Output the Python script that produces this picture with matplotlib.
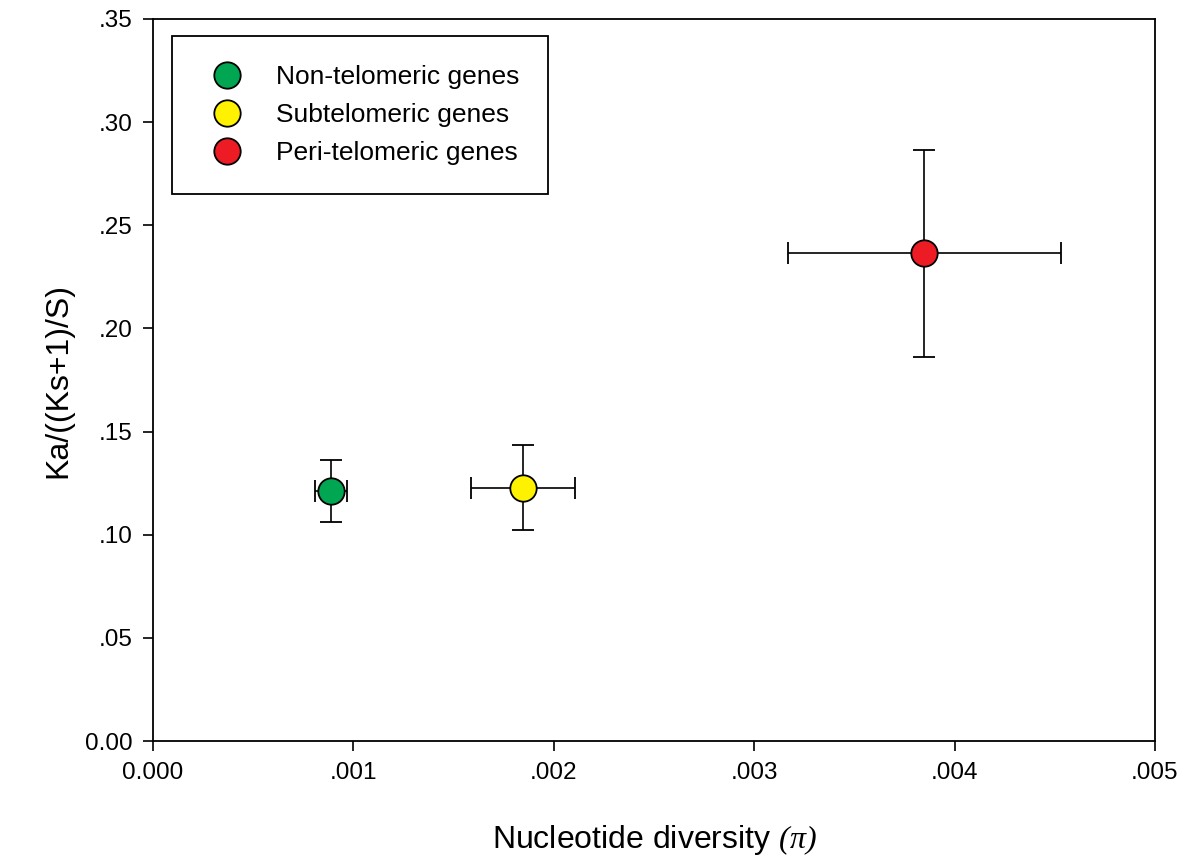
import matplotlib.pyplot as plt
from matplotlib.ticker import FuncFormatter

plt.rcParams['font.family'] = ['Liberation Sans', 'DejaVu Sans']
plt.rcParams['mathtext.fontset'] = 'custom'
plt.rcParams['mathtext.rm'] = 'Liberation Serif:italic'
plt.rcParams['mathtext.it'] = 'Liberation Serif:italic'

# gene groups: mean nucleotide diversity and Ka/((Ks+1)/S) with errors
groups = ['Non-telomeric genes', 'Subtelomeric genes', 'Peri-telomeric genes']
colors = ['#00A651', '#FFF200', '#ED1C24']
pi_mean = [0.00089, 0.001846, 0.003849]
pi_err = [0.00008, 0.00026, 0.00068]
ka_mean = [0.1212, 0.1228, 0.2364]
ka_err = [0.0148, 0.0206, 0.0502]

fig = plt.figure(figsize=(11.88, 8.67), dpi=100)
ax = fig.add_axes([0.1288, 0.1453, 0.8434, 0.8328])

for name, c, x, xe, y, ye in zip(groups, colors, pi_mean, pi_err, ka_mean, ka_err):
    ax.errorbar(x, y, xerr=xe, yerr=ye, fmt='o', color='black', ecolor='black',
                elinewidth=1.2, capsize=8, capthick=1.2,
                markerfacecolor=c, markeredgecolor='black', markeredgewidth=1.3,
                markersize=19, label=name, zorder=3)

ax.set_xlim(0, 0.005)
ax.set_ylim(0, 0.35)
ax.set_xticks([0, 0.001, 0.002, 0.003, 0.004, 0.005])
ax.set_yticks([0, 0.05, 0.10, 0.15, 0.20, 0.25, 0.30, 0.35])


def xfmt(v, pos):
    if v == 0:
        return '0.000'
    return ('%.3f' % v).lstrip('0')


def yfmt(v, pos):
    if v == 0:
        return '0.00'
    return ('%.2f' % v).lstrip('0')


ax.xaxis.set_major_formatter(FuncFormatter(xfmt))
ax.yaxis.set_major_formatter(FuncFormatter(yfmt))
ax.tick_params(direction='out', length=7, width=1.2, labelsize=17.5, pad=8)
for s in ax.spines.values():
    s.set_linewidth(1.3)

ax.set_xlabel(r'Nucleotide diversity $(π)$', fontsize=23, labelpad=28)
ax.set_ylabel('Ka/((Ks+1)/S)', fontsize=23, labelpad=8)

handles, labels = ax.get_legend_handles_labels()
handles = [h[0] for h in handles]
leg = ax.legend(handles, labels, loc='upper left', bbox_to_anchor=(0.019, 0.976),
                borderaxespad=0, fontsize=19, fancybox=False, edgecolor='black',
                framealpha=1, borderpad=1.1, handlelength=1.94, handletextpad=0.89,
                labelspacing=0.53, numpoints=1)
leg.get_frame().set_linewidth(1.3)

fig.savefig('out.png', dpi=100)
